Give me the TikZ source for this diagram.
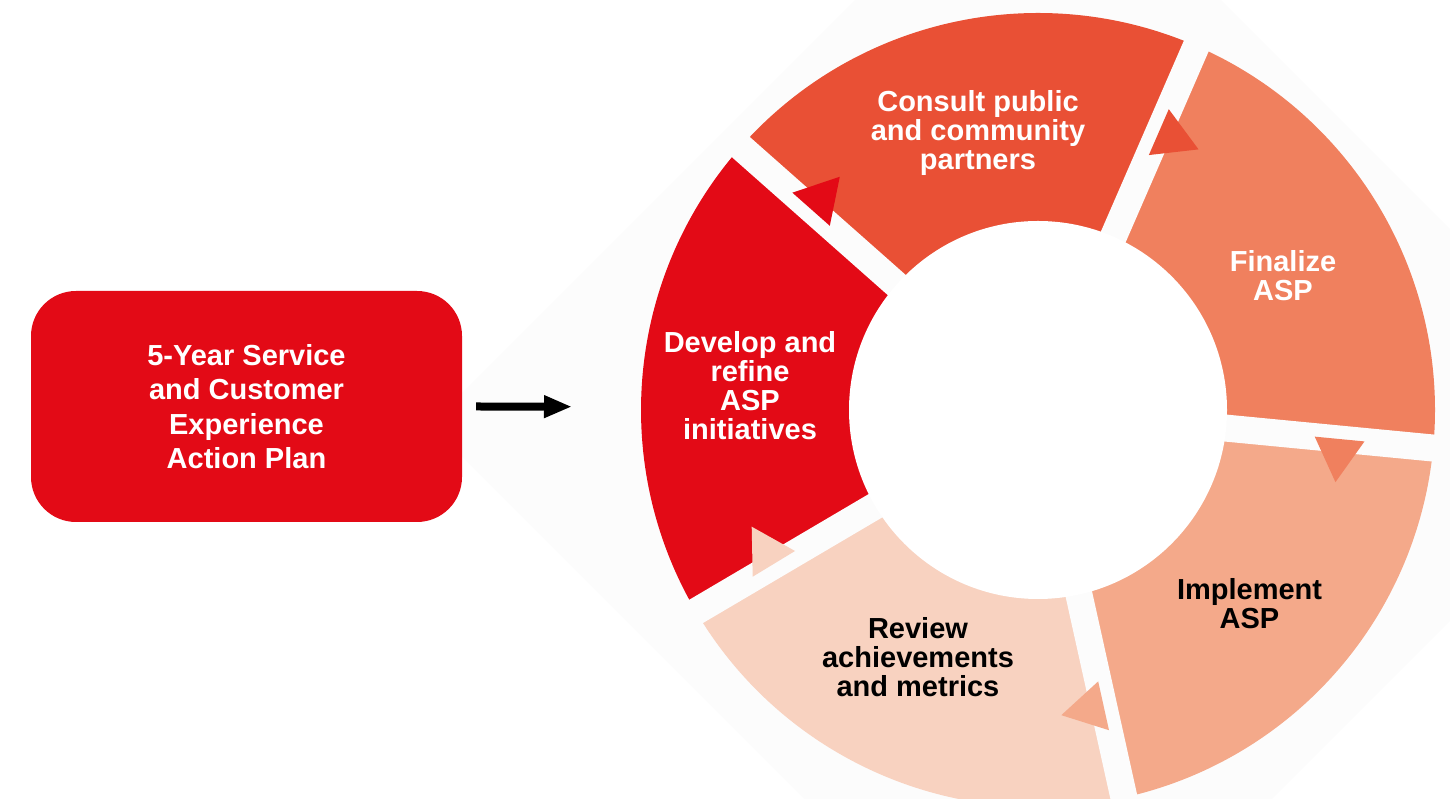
\documentclass[tikz,border=0pt]{standalone}
\usepackage{fontspec}
\setmainfont{Liberation Sans}
\usetikzlibrary{calc,arrows.meta}
\definecolor{cDev}{RGB}{227,10,22}
\definecolor{cCon}{RGB}{233,80,53}
\definecolor{cFin}{RGB}{240,128,94}
\definecolor{cImp}{RGB}{244,169,138}
\definecolor{cRev}{RGB}{248,210,192}
\definecolor{cFaint}{RGB}{252,252,252}
\newcommand{\ringseg}[3]{\fill[#1] (C) -- ($(C)+(#2:397)$) arc[start angle=#2, end angle=#3, radius=397] -- cycle;}
\begin{document}
\begin{tikzpicture}[x=1pt,y=1pt,
  lbl/.style={align=center,font=\fontsize{29}{29}\selectfont\bfseries,inner sep=0pt},
  planbox/.style={fill=cDev, rounded corners=45pt, minimum width=431pt, minimum height=231pt,
     inner sep=0pt, align=center, text=white, font=\fontsize{29}{34.5}\selectfont\bfseries},
  bigarrow/.style={line width=8pt, -{Triangle[length=28pt,width=21pt]}},
  gapline/.style={cFaint, line width=27pt}]
\clip (0,0) rectangle (1450,799);
% faint background
\fill[cFaint] (430,374) -- (1038,982) -- (1646,374) -- (1038,-234) -- cycle;
\coordinate (C) at (1038,389);
% ring segments
\ringseg{cCon}{66.5}{138.5}
\ringseg{cFin}{-5.5}{66.5}
\ringseg{cImp}{-77.5}{-5.5}
\ringseg{cRev}{-149.5}{-77.5}
\ringseg{cDev}{138.5}{210.5}
% gaps
\begin{scope}
  \clip (C) circle[radius=398];
  \foreach \a in {138.5,66.5,-5.5,-77.5,-149.5}
    \draw[gapline] (C) -- ++(\a:420);
\end{scope}
\fill[white] (C) circle[radius=189];
% direction triangles
\foreach \a/\c in {138.5/cDev,66.5/cCon,-5.5/cFin,-77.5/cImp}
  \fill[\c, shift={(C)}, rotate=\a] (278,0) -- (328,0) -- (303,-43.3) -- cycle;
\fill[cRev] (751.7,272.3) -- (752.7,222.3) -- (795,248) -- cycle;
% labels
\node[lbl,text=white] (consult) at (978,665.5) {Consult public\\and community\\partners};
\node[lbl,text=white] (finalize) at (1283,523.5) {Finalize\\ASP};
\node[lbl,text=white] (develop) at (750,413) {Develop and\\refine\\ASP\\initiatives};
\node[lbl,text=black] (implement) at (1249.5,195.5) {Implement\\ASP};
\node[lbl,text=black] (review) at (918,142) {Review\\achievements\\and metrics};
% plan box and arrow
\node[planbox] (plan) at (246.5,392.5) {5-Year Service\\and Customer\\Experience\\Action Plan};
\coordinate (arrowend) at (572,392.3);
\draw[bigarrow] ([xshift=14pt]plan.east) -- (arrowend);
\end{tikzpicture}
\end{document}
